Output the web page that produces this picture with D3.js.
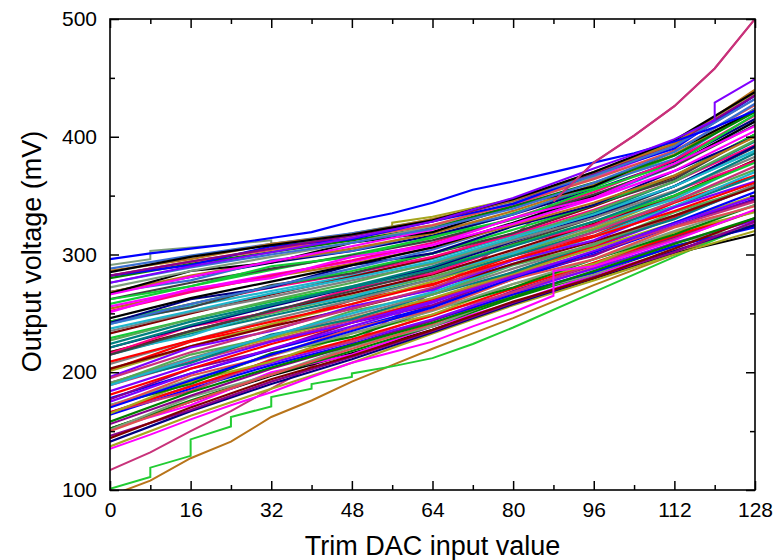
<!DOCTYPE html>
<html>
<head>
<meta charset="utf-8">
<script src="https://d3js.org/d3.v7.min.js"></script>
<style>
body{margin:0;background:#fff;}
svg{display:block;}
text{font-family:"Liberation Sans",Arial,sans-serif;}
</style>
</head>
<body>
<div id="chart"></div>
<script>
// trim DAC codes where the band curves were read
var codes = [0,16,32,48,64,80,96,112,128];

// output voltage (mV) of each chip at the codes above
var bandCurves = [
[152,175,197,216,236,259,279,301,317],
[202,226,240,261,274,299,316,344,367],
[258,273,287,300,314,335,357,384,423],
[178,199,219,237,256,279,300,324,347],
[241,256,269,282,296,316,335,358,388],
[152,172,200,215,239,259,283,303,326],
[201,222,241,258,277,300,322,349,380],
[268,281,293,303,316,334,355,379,415],
[177,203,219,242,257,282,299,327,346],
[233,250,266,281,297,318,341,366,402],
[152,176,198,218,239,263,284,307,325],
[215,233,248,263,279,299,319,341,366],
[268,278,295,303,319,334,359,381,424],
[175,199,220,239,259,284,306,331,358],
[243,258,272,284,298,317,338,362,393],
[151,179,198,222,239,266,283,310,324],
[207,227,245,261,279,302,324,349,380],
[268,282,294,305,318,337,359,385,423],
[189,209,227,244,261,283,302,324,345],
[243,255,274,284,301,318,342,364,402],
[150,175,198,220,241,267,289,314,337],
[217,234,250,265,281,301,321,345,372],
[267,286,293,310,319,341,358,388,422],
[181,203,224,242,262,285,307,332,359],
[243,258,273,286,301,321,342,367,402],
[164,186,206,224,244,266,285,307,323],
[217,231,253,264,284,301,326,347,380],
[266,281,294,307,321,342,365,392,435],
[191,211,229,246,263,284,305,327,350],
[242,262,272,291,301,324,342,371,400],
[156,180,203,223,244,269,291,315,337],
[217,235,252,267,283,304,326,350,380],
[280,292,302,312,323,341,361,384,421],
[191,208,232,245,266,285,309,330,359],
[241,258,273,288,304,326,348,375,413],
[166,188,208,226,245,268,288,310,329],
[216,239,251,271,284,308,325,354,379],
[272,286,298,310,324,344,366,393,435],
[191,212,231,248,266,288,309,333,359],
[254,269,281,292,306,325,344,367,400],
[166,184,211,226,249,268,292,313,337],
[215,235,252,269,286,309,331,358,391],
[282,294,304,314,325,343,364,388,427],
[190,215,230,252,266,291,308,336,357],
[246,263,277,291,306,327,350,376,413],
[166,188,210,228,248,271,293,316,337],
[229,245,260,273,288,308,328,350,378],
[282,291,307,313,328,343,368,390,435],
[189,211,231,250,268,292,315,341,370],
[256,270,283,294,308,326,347,371,405],
[165,192,209,233,249,275,292,319,336],
[221,239,256,272,289,311,333,358,392],
[282,294,305,316,328,346,368,394,435],
[203,222,239,254,271,292,311,333,357],
[172,190,216,230,253,272,296,317,342],
[221,240,257,273,290,313,335,362,396],
[288,299,309,318,329,347,367,392,432],
[196,221,235,256,270,295,312,340,362],
[252,268,282,295,310,331,353,380,418],
[172,194,214,233,252,275,296,320,342],
[235,251,264,278,292,312,331,354,383],
[286,296,309,317,330,346,370,394,440],
[195,217,236,254,272,296,319,345,375],
[262,276,288,299,312,330,351,375,410],
[171,197,214,237,253,279,296,323,341],
[227,245,261,276,293,314,337,362,397],
[285,298,308,317,329,347,370,397,438],
[209,227,243,258,275,296,315,337,361],
[262,273,290,298,315,330,355,377,419],
[170,193,215,235,255,280,302,327,353],
[237,252,267,280,294,314,334,358,388],
[251,271,280,298,308,331,348,377,409],
[137,163,186,208,233,257,278,300,320],
[141,167,190,211,234,258,280,303,325],
[146,168,192,213,235,259,281,302,328],
[144,170,194,214,236,260,280,305,331],
[158,183,204,223,242,264,286,309,331],
[224,243,258,272,287,307,328,353,386],
[276,289,300,310,322,339,361,387,428],
[184,206,226,242,260,281,303,326,349]
];

// separate chips read point by point as [code, mV]
var blueTop = [[0,296],[8,301],[16,305],[24,309],[32,314],[40,319],[48,328],[56,335],[64,344],[72,355],[80,362],[88,370],[96,378],[104,386],[112,396],[120,408],[128,422]];
var purpleTop = [[0,276],[16,290],[32,302],[48,314],[64,328],[80,348],[96,373],[104,385],[112,398],[120,414],[120,429],[128,449]];
var greyGreenTop = [[0,291],[8,296],[8,303],[16,306],[24,309],[32,312],[32,306],[40,312],[48,318],[64,330],[80,345],[96,368],[112,392],[128,432]];
var oliveTop = [[0,282],[16,294],[32,305],[48,316],[56,323],[56,327],[64,332],[80,347],[96,369],[112,396],[128,437]];
var crimsonLine = [[0,117],[8,132],[16,150],[24,167],[32,186],[40,205],[48,225],[56,246],[64,268],[72,291],[80,315],[88,345],[96,378],[104,401],[112,426],[120,458],[128,500]];
var magentaLow = [[0,135],[8,147],[16,160],[24,172],[32,183],[40,196],[48,208],[56,217],[64,226],[72,239],[80,251],[88,265],[88,286],[96,290],[112,312],[128,338]];
var greenLow = [[0,101],[8,111],[8,119],[16,129],[16,143],[24,154],[24,162],[32,171],[32,179],[40,186],[40,190],[48,196],[48,199],[56,205],[64,212],[72,224],[80,238],[96,268],[112,298],[128,327]];
var brownLow = [[0,95],[8,108],[16,127],[24,141],[32,162],[40,176],[48,192],[56,206],[64,220],[72,233],[80,246],[96,274],[112,300],[128,326]];

var xMajor = [0,16,32,48,64,80,96,112,128];
var xMinor = [8,24,40,56,72,88,104,120];
var yMajor = [100,200,300,400,500];
var yMinor = [150,250,350,450];

var palette = ["#000000","#FF0000","#11CC33","#0000FF","#1FB5CC","#FF00FF","#A6A61E","#000080",
  "#8B008B","#800000","#008000","#008080","#3A6FD0","#8000FF","#FF0080","#7E9E7E",
  "#808080","#B8741A","#C8327A","#404040","#E05050","#55AA55"];

var W = 776, H = 560;
var margin = {top:19, right:21, bottom:70, left:110};
var w = W - margin.left - margin.right,
    h = H - margin.top - margin.bottom;

var svg = d3.select("#chart").append("svg")
  .attr("width", W).attr("height", H);
var g = svg.append("g")
  .attr("transform", "translate(" + margin.left + "," + margin.top + ")");

var x = d3.scaleLinear().domain([0,128]).range([0,w]);
var y = d3.scaleLinear().domain([100,500]).range([h,0]);

g.append("clipPath").attr("id","plotClip")
  .append("rect").attr("width", w).attr("height", h);

var line = d3.line()
  .x(function(d){ return x(d[0]); })
  .y(function(d){ return y(d[1]); });

var plot = g.append("g").attr("clip-path","url(#plotClip)");

// outliers first, band drawn over them
var outliers = [
  {pts: crimsonLine, color:"#C8327A"},
  {pts: brownLow, color:"#B8741A"},
  {pts: greenLow, color:"#22CC33"},
  {pts: greyGreenTop, color:"#7E9E7E"},
  {pts: oliveTop, color:"#A6A61E"}
];
plot.selectAll(".outlier")
  .data(outliers)
  .enter().append("path")
  .attr("class","outlier")
  .attr("d", function(d){ return line(d.pts); })
  .attr("fill","none")
  .attr("stroke", function(d){ return d.color; })
  .attr("stroke-width", 2);

plot.selectAll(".band")
  .data(bandCurves)
  .enter().append("path")
  .attr("class","band")
  .attr("d", function(row){
    return line(codes.map(function(c,i){ return [c,row[i]]; }));
  })
  .attr("fill","none")
  .attr("stroke", function(d,i){ return palette[i % palette.length]; })
  .attr("stroke-width", 2.2);

// chips drawn over the band
plot.append("path").attr("d", line(magentaLow))
  .attr("fill","none").attr("stroke","#FF00FF").attr("stroke-width",2);
plot.append("path").attr("d", line(blueTop))
  .attr("fill","none").attr("stroke","#0000FF").attr("stroke-width",2.2);
plot.append("path").attr("d", line(purpleTop))
  .attr("fill","none").attr("stroke","#8000FF").attr("stroke-width",2);
plot.append("path").attr("d", line(crimsonLine.filter(function(d){ return d[0] >= 88; })))
  .attr("fill","none").attr("stroke","#C8327A").attr("stroke-width",2);

// axes, ticks pointing inward
function styleAxis(sel){
  sel.select(".domain").remove();
  sel.selectAll("line").attr("stroke","#000").attr("stroke-width",1.5);
  sel.selectAll("text").attr("font-size","21px").attr("fill","#000")
    .attr("font-family","'Liberation Sans',Arial,sans-serif");
}
g.append("g").attr("transform","translate(0,"+h+")")
  .call(d3.axisBottom(x).tickValues(xMajor).tickSize(-9).tickPadding(12)).call(styleAxis);
g.append("g").attr("transform","translate(0,"+h+")")
  .call(d3.axisBottom(x).tickValues(xMinor).tickSize(-5).tickFormat("")).call(styleAxis);
g.append("g")
  .call(d3.axisTop(x).tickValues(xMajor).tickSize(-9).tickFormat("")).call(styleAxis);
g.append("g")
  .call(d3.axisTop(x).tickValues(xMinor).tickSize(-5).tickFormat("")).call(styleAxis);
g.append("g")
  .call(d3.axisLeft(y).tickValues(yMajor).tickSize(-9).tickPadding(13)).call(styleAxis);
g.append("g")
  .call(d3.axisLeft(y).tickValues(yMinor).tickSize(-5).tickFormat("")).call(styleAxis);
g.append("g").attr("transform","translate("+w+",0)")
  .call(d3.axisRight(y).tickValues(yMajor).tickSize(-9).tickFormat("")).call(styleAxis);
g.append("g").attr("transform","translate("+w+",0)")
  .call(d3.axisRight(y).tickValues(yMinor).tickSize(-5).tickFormat("")).call(styleAxis);

g.append("rect")
  .attr("width", w).attr("height", h)
  .attr("fill","none").attr("stroke","#000").attr("stroke-width",1.6);

g.append("text")
  .attr("x", w/2).attr("y", h + 65)
  .attr("text-anchor","middle")
  .attr("font-size","27px")
  .text("Trim DAC input value");

g.append("text")
  .attr("transform","translate(-69," + (h/2 - 3) + ") rotate(-90)")
  .attr("text-anchor","middle")
  .attr("font-size","27px")
  .text("Output voltage (mV)");
</script>
</body>
</html>
